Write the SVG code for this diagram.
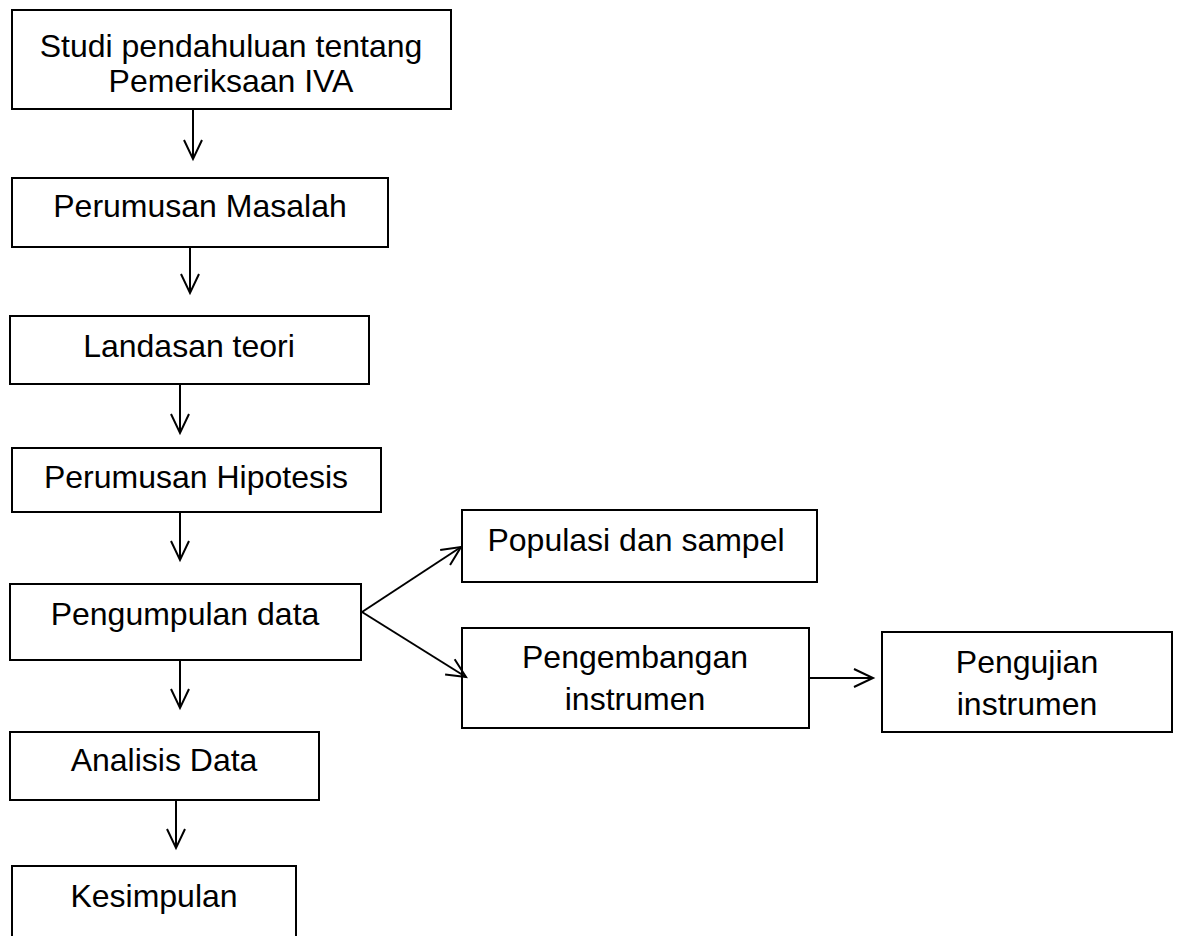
<svg xmlns="http://www.w3.org/2000/svg" width="1178" height="936" viewBox="0 0 1178 936">
<style>
.box{fill:#fff;stroke:#000;stroke-width:2}
.t{font-family:"Liberation Sans",Arial,sans-serif;font-size:32px;fill:#000;text-anchor:middle}
.c{fill:none;stroke:#000;stroke-width:2;marker-end:url(#arr)}
</style>
<defs>
<marker id="arr" markerUnits="userSpaceOnUse" markerWidth="26" markerHeight="26" viewBox="-22 -13 26 26" refX="0" refY="0" orient="auto">
<path d="M-19,-9 L0,0 L-19,9" fill="none" stroke="#000" stroke-width="2"/>
</marker>
</defs>
<rect width="1178" height="936" fill="#fff"/>
<g id="n1"><rect class="box" x="12" y="10" width="439" height="99"/><text class="t" x="231" y="57">Studi pendahuluan tentang</text><text class="t" x="231" y="92">Pemeriksaan IVA</text></g>
<g id="n2"><rect class="box" x="12" y="178" width="376" height="69"/><text class="t" x="200" y="217">Perumusan Masalah</text></g>
<g id="n3"><rect class="box" x="10" y="316" width="359" height="68"/><text class="t" x="189" y="357">Landasan teori</text></g>
<g id="n4"><rect class="box" x="12" y="448" width="369" height="64"/><text class="t" x="196" y="488">Perumusan Hipotesis</text></g>
<g id="n5"><rect class="box" x="10" y="584" width="351" height="76"/><text class="t" x="185" y="625">Pengumpulan data</text></g>
<g id="n6"><rect class="box" x="10" y="732" width="309" height="68"/><text class="t" x="164" y="771">Analisis Data</text></g>
<g id="n7"><rect class="box" x="12" y="866" width="284" height="80"/><text class="t" x="154" y="907">Kesimpulan</text></g>
<g id="n8"><rect class="box" x="462" y="510" width="355" height="72"/><text class="t" x="636" y="551">Populasi dan sampel</text></g>
<g id="n9"><rect class="box" x="462" y="628" width="347" height="100"/><text class="t" x="635" y="668">Pengembangan</text><text class="t" x="635" y="710">instrumen</text></g>
<g id="n10"><rect class="box" x="882" y="632" width="290" height="100"/><text class="t" x="1027" y="673">Pengujian</text><text class="t" x="1027" y="715">instrumen</text></g>
<g id="connectors">
<line class="c" x1="193" y1="109" x2="193" y2="159"/>
<line class="c" x1="190" y1="247" x2="190" y2="293"/>
<line class="c" x1="180" y1="384" x2="180" y2="433"/>
<line class="c" x1="180" y1="512" x2="180" y2="560"/>
<line class="c" x1="180" y1="660" x2="180" y2="708"/>
<line class="c" x1="176" y1="800" x2="176" y2="848"/>
<line class="c" x1="362" y1="612" x2="461" y2="547"/>
<line class="c" x1="362" y1="612" x2="466" y2="677"/>
<line class="c" x1="809" y1="678" x2="873" y2="678"/>
</g>
</svg>
